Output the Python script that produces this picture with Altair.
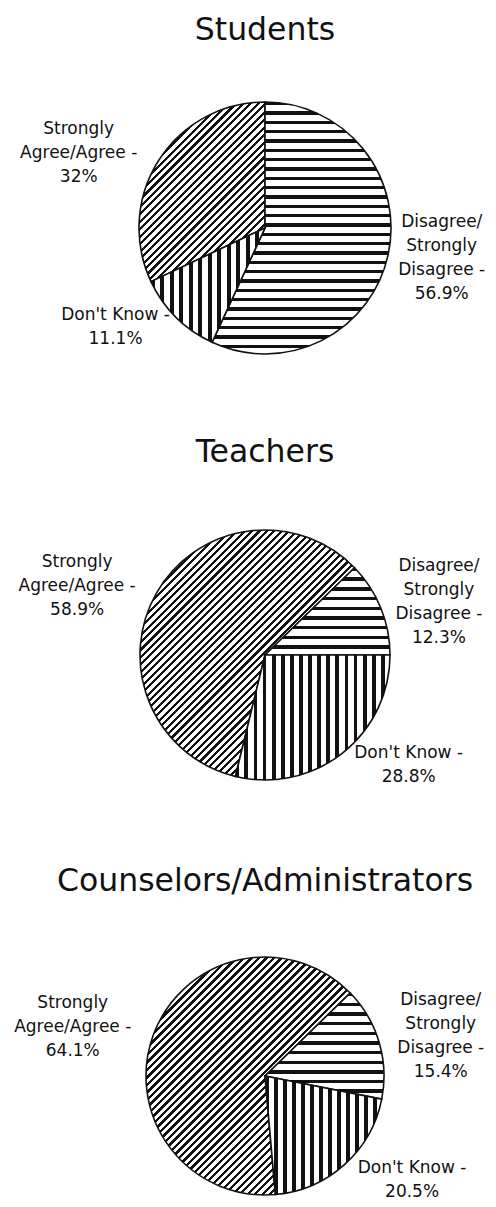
import math
import altair as alt
import pandas as pd

# ---- data ----
groups = ["Students", "Teachers", "Counselors/Administrators"]
categories = ["Strongly Agree/Agree", "Disagree/Strongly Disagree", "Don't Know"]
label_text = ["Strongly\nAgree/Agree -", "Disagree/\nStrongly\nDisagree -", "Don't Know -"]
students = [32.0, 56.9, 11.1]
teachers = [58.9, 12.3, 28.8]
counselors = [64.1, 15.4, 20.5]
values = [students, teachers, counselors]

# ---- style / layout ----
FONT = "DejaVu Sans"
INK = "#111111"
start_deg = [244.8, 193.7, 175.0]     # where the first slice starts (clockwise from 12 o'clock)
radius = [126, 125, 119]
hatch = ["diag", "horiz", "vert"]
period = {"diag": 5.3, "horiz": 9.3, "vert": 9.3}
dark = {"diag": 0.42, "horiz": 0.36, "vert": 0.42}
label_rx = {categories[0]: 196, categories[1]: 178, categories[2]: 166}
label_ry = 140
label_pow = 0.3          # squareness of the label ring (superellipse exponent, horizontal)
LINE_H = 24
W = 480
CX = 257
panel_h = [420, 427, 340]
center_y = [220, 227, 221]
title_gap = [197, 202, 194]


def sector_box(a0, a1, r):
    pts = [(0.0, 0.0), (r * math.sin(a0), -r * math.cos(a0)), (r * math.sin(a1), -r * math.cos(a1))]
    k = math.ceil(a0 / (math.pi / 2))
    while k * math.pi / 2 < a1:
        a = k * math.pi / 2
        pts.append((r * math.sin(a), -r * math.cos(a)))
        k += 1
    xs = [p[0] for p in pts]
    ys = [p[1] for p in pts]
    return max(xs) - min(xs), max(ys) - min(ys)


def stripes(kind, w, h):
    if kind == "horiz":
        x2, y2, span = 0, 1, h
    elif kind == "vert":
        x2, y2, span = 1, 0, w
    else:
        k = (w + h) / (w * w + h * h)
        x2, y2, span = k * w, k * h, (w + h) / math.sqrt(2)
    n = max(1, round(span / period[kind]))
    f = dark[kind]
    stops = []
    for i in range(n):
        o0, o1, o2 = i / n, (i + f) / n, (i + 1) / n
        stops += [
            {"offset": o0, "color": INK},
            {"offset": o1, "color": INK},
            {"offset": o1, "color": "#ffffff"},
            {"offset": o2, "color": "#ffffff"},
        ]
    return {"gradient": "linear", "x1": 0, "y1": 0, "x2": x2, "y2": y2, "stops": stops}


def panel(k):
    df = pd.DataFrame({"cat": categories, "label": label_text, "v": values[k], "idx": [0, 1, 2]})
    s = math.radians(start_deg[k])
    R = radius[k]
    H = panel_h[k]
    cy = center_y[k]

    grads = []
    acc = 0.0
    for v, kind in zip(values[k], hatch):
        a0 = s + 2 * math.pi * acc / 100.0
        a1 = a0 + 2 * math.pi * v / 100.0
        acc += v
        w, h = sector_box(a0, a1, R)
        grads.append(stripes(kind, w, h))

    fill = alt.FillValue(
        value=grads[2],
        condition=[
            {"test": f"datum.cat === \"{categories[0]}\"", "value": grads[0]},
            {"test": f"datum.cat === \"{categories[1]}\"", "value": grads[1]},
        ],
    )

    xs = alt.Scale(domain=[-CX, W - CX], nice=False, zero=False)
    ys = alt.Scale(domain=[-(H - cy), cy], nice=False, zero=False)

    pie = (
        alt.Chart(df)
        .transform_calculate(z="0")
        .mark_arc(outerRadius=R, stroke=INK, strokeWidth=1.6)
        .encode(
            x=alt.X("z:Q", scale=xs, axis=None),
            y=alt.Y("z:Q", scale=ys, axis=None),
            theta=alt.Theta("v:Q", stack=True,
                            scale=alt.Scale(range=[s, s + 2 * math.pi])),
            order=alt.Order("idx:Q"),
            detail="cat:N",
            fill=fill,
        )
    )

    rx_expr = " : ".join(
        [f"datum.cat === \"{c}\" ? {label_rx[c]}" for c in categories[:-1]]
        + [str(label_rx[categories[-1]])]
    )

    labels = (
        alt.Chart(df)
        .transform_window(cum="sum(v)", sort=[alt.SortField("idx")])
        .transform_joinaggregate(total="sum(v)")
        .transform_calculate(
            mid=f"{s} + 2*PI*(datum.cum - datum.v/2)/datum.total",
            rx=rx_expr,
            txt="datum.label + '\\n' + datum.v + '%'",
        )
        .transform_calculate(
            lx=f"datum.rx*(sin(datum.mid) < 0 ? -1 : 1)*pow(abs(sin(datum.mid)), {label_pow})",
            ly=f"{label_ry}*cos(datum.mid) + (length(split(datum.txt, '\\n')) - 1)*{LINE_H}/2",
        )
        .mark_text(font=FONT, fontSize=17, lineHeight=LINE_H, align="center",
                   baseline="middle", lineBreak="\n", color=INK)
        .encode(
            x=alt.X("lx:Q", scale=xs, axis=None),
            y=alt.Y("ly:Q", scale=ys, axis=None),
            text="txt:N",
        )
    )

    title = (
        alt.Chart(pd.DataFrame({"group": [groups[k]]}))
        .transform_calculate(tx="0", ty=str(title_gap[k]))
        .mark_text(font=FONT, fontSize=31.5, align="center", baseline="middle", color=INK)
        .encode(
            x=alt.X("tx:Q", scale=xs, axis=None),
            y=alt.Y("ty:Q", scale=ys, axis=None),
            text="group:N",
        )
    )

    return alt.layer(pie, labels, title).properties(width=W, height=H)


chart = (
    alt.vconcat(*[panel(k) for k in range(3)], spacing=0)
    .resolve_scale(x="independent", y="independent", theta="independent")
    .properties(padding={"left": 0, "top": 0, "right": 0, "bottom": 0})
    .configure_view(stroke=None)
)

chart.save("out.html", embed_options={"renderer": "svg", "actions": False})
